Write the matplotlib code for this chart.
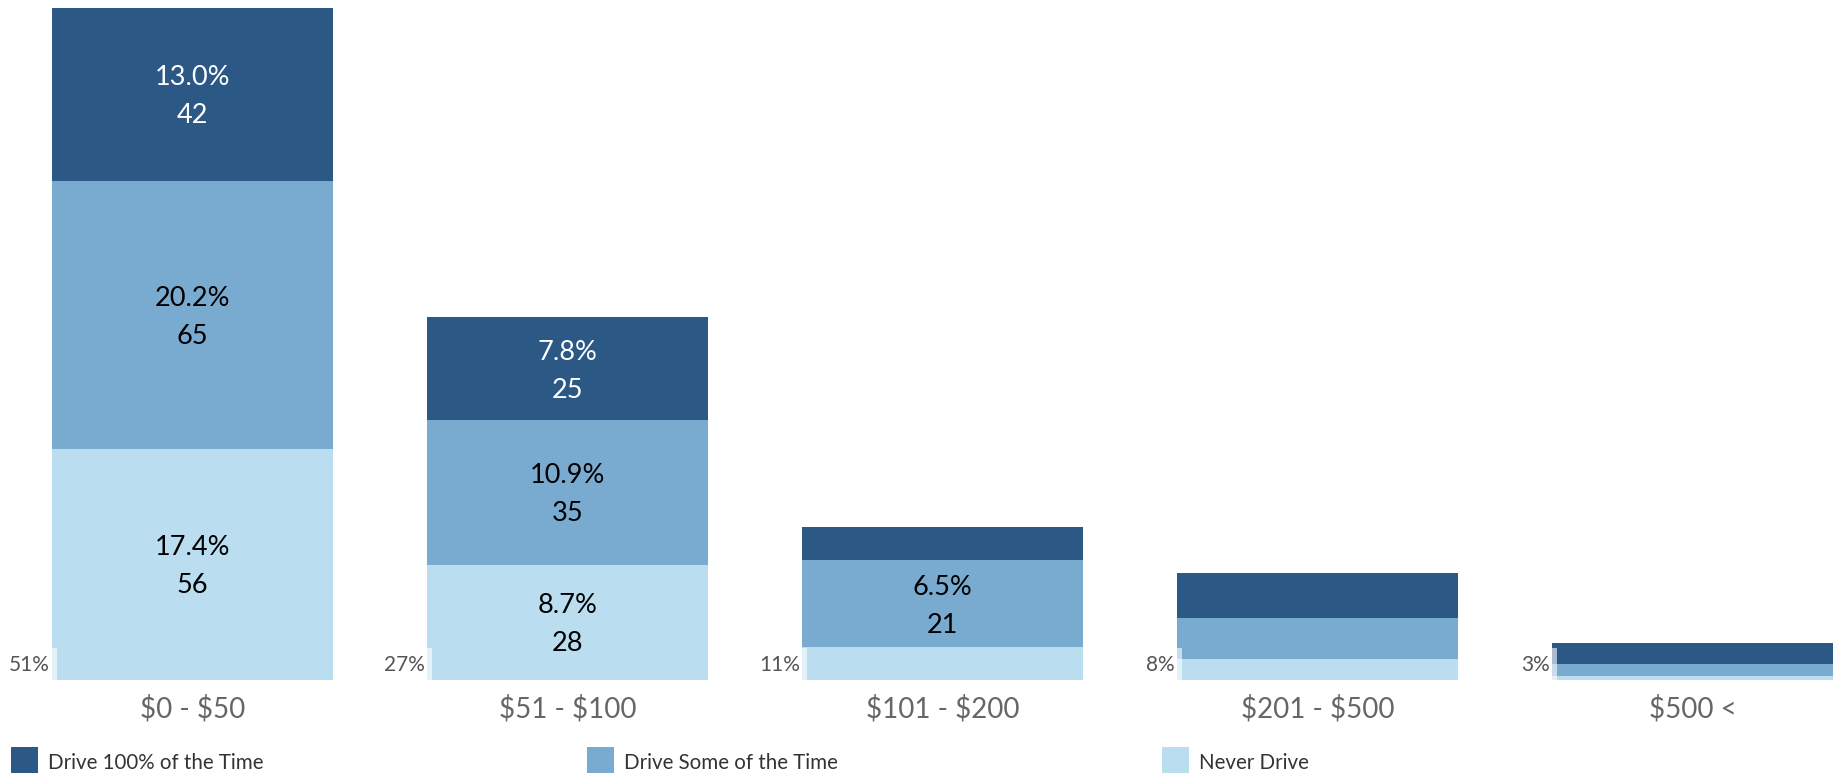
import numpy as np
import matplotlib.pyplot as plt
from matplotlib.patches import Rectangle

plt.rcParams['font.family'] = ['Lato', 'DejaVu Sans']

categories = ['\\$0 - \\$50', '\\$51 - \\$100', '\\$101 - \\$200', '\\$201 - \\$500', '\\$500 <']
series = ['Drive 100% of the Time', 'Drive Some of the Time', 'Never Drive']
never = [56, 28, 8, 5, 1]
some = [65, 35, 21, 10, 3]
always = [42, 25, 8, 11, 5]
respondents = 322

colors = ['#2B5884', '#79AAD0', '#BADEF0']
text_colors = ['white', 'black', 'black']

W, H = 1843, 773
fig = plt.figure(figsize=(W / 100, H / 100), dpi=100)
ax = fig.add_axes([0, 1 - 680 / H, 1, 672 / H])

x = np.arange(len(categories))
width = 0.75
pitch_px = 375
left_px = 52
x0 = -width / 2 - left_px / pitch_px
ax.set_xlim(x0, x0 + W / pitch_px)

totals = np.array(never) + np.array(some) + np.array(always)
ax.set_ylim(0, totals.max())

# stack from the bottom: never, some, always
stack = [(never, 2), (some, 1), (always, 0)]
base = np.zeros(len(categories))
for vals, k in stack:
    vals = np.array(vals)
    ax.bar(x, vals, width, bottom=base, color=colors[k], linewidth=0, label=series[k])
    for i, v in enumerate(vals):
        if v >= 15:
            yc = base[i] + v / 2
            ax.annotate(f'{v / respondents * 100:.1f}%', (x[i], yc), xytext=(0, 12.0),
                        textcoords='offset points', ha='center', va='center',
                        fontsize=19.5, color=text_colors[k])
            ax.annotate(f'{v}', (x[i], yc), xytext=(0, -15.4),
                        textcoords='offset points', ha='center', va='center',
                        fontsize=19.5, color=text_colors[k])
    base = base + vals

for i, t in enumerate(totals):
    ax.annotate(f'{round(t / respondents * 100)}%', (x[i] - width / 2, 0), xytext=(-1.5, 10.8),
                textcoords='offset points', ha='right', va='center', fontsize=15, color='#555555',
                bbox=dict(boxstyle='square,pad=0.33', facecolor='white', alpha=0.6, linewidth=0))

ax.set_xticks(x, categories)
ax.tick_params(axis='x', length=0, pad=11, labelsize=20, labelcolor='#666666')
ax.set_yticks([])
for s in ax.spines.values():
    s.set_visible(False)

# legend along the bottom
for k, name in enumerate(series):
    lx = 11 + k * 575.5
    fig.add_artist(Rectangle((lx / W, 1 - 774 / H), 27 / W, 27 / H, transform=fig.transFigure,
                             facecolor=colors[k], linewidth=0))
    fig.text((lx + 37) / W, 1 - 763 / H, name, ha='left', va='center', fontsize=14.8, color='#333333')

fig.savefig('out.png', dpi=100)
